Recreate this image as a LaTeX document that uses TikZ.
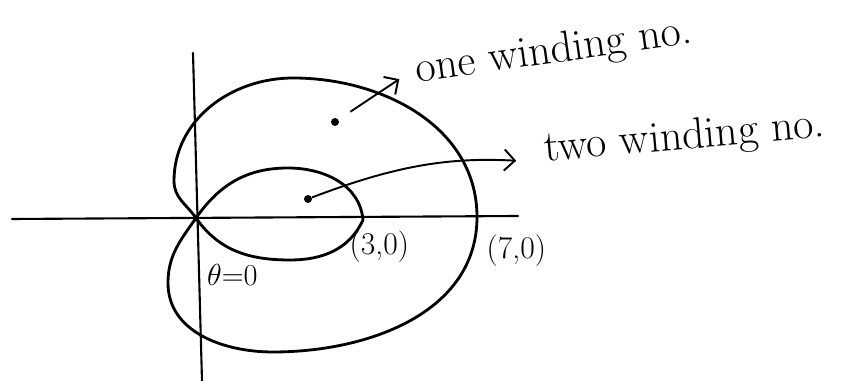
\documentclass[tikz,border=0pt]{standalone}
\usepackage{tikz}
\usetikzlibrary{positioning, arrows.meta}

\begin{document}
\begin{tikzpicture}[
    x=0.02cm, y=0.02cm,
    axis/.style={line width=1.2pt, line cap=round},
    curve/.style={line width=1.6pt, line join=round},
    dot/.style={circle, fill=black, inner sep=0pt, minimum size=0.16cm},
    pointer/.style={-{Straight Barb[length=6pt, width=12pt]}, line width=1.1pt},
    note/.style={font=\fontsize{25}{30}\selectfont},
    lbl/.style={font=\fontsize{18}{22}\selectfont},
  ]
    \useasboundingbox (0,0) rectangle (842,381);

    \coordinate (O) at (196,163);
    \coordinate (xl) at (12,162);
    \coordinate (xr) at (518,165);
    \coordinate (yb) at (202,0);
    \coordinate (yt) at (193,328);
    \coordinate (P3) at (363,161);
    \coordinate (P7) at (477,164);

    \draw[axis] (xl) -- (xr);
    \draw[axis] (yb) -- (yt);

    % limacon: outer loop, then inner loop
    \draw[curve] (O) to[out=125, in=-90] (174,200) to[out=90, in=180] (293,303)
      to[out=0, in=90] (P7) to[out=-90, in=0] (273,29)
      to[out=180, in=-90] (168,98) to[out=90, in=235] (O)
      to[out=55, in=180] (288,213) to[out=0, in=95] (P3)
      to[out=-115, in=0] (290,121) to[out=180, in=-55] (O);
    \fill (O) circle (3.5);

    \node[dot] (d1) at (335,259) {};
    \node[dot] (d2) at (308,182) {};

    \node[note, rotate=8, anchor=base west] (one) at (411,298) {one winding no.};
    \node[note, rotate=5, anchor=base west] (two) at (539,219) {two winding no.};

    \node[lbl, below right=0.09cm and -0.39cm of P3] (L3) {(3,0)};
    \node[lbl, below right=0.23cm and 0.07cm of P7] (L7) {(7,0)};
    \node[lbl, font=\fontsize{16}{20}\selectfont, below right=0.8cm and 0.1cm of O] (theta) {$\theta{=}0$};

    \draw[pointer, shorten <=8pt, shorten >=7pt] (d1) -- (one.west);
    \draw[pointer, shorten >=13pt] (d2) to[bend left=12] (two.base west);
  \end{tikzpicture}
\end{document}
